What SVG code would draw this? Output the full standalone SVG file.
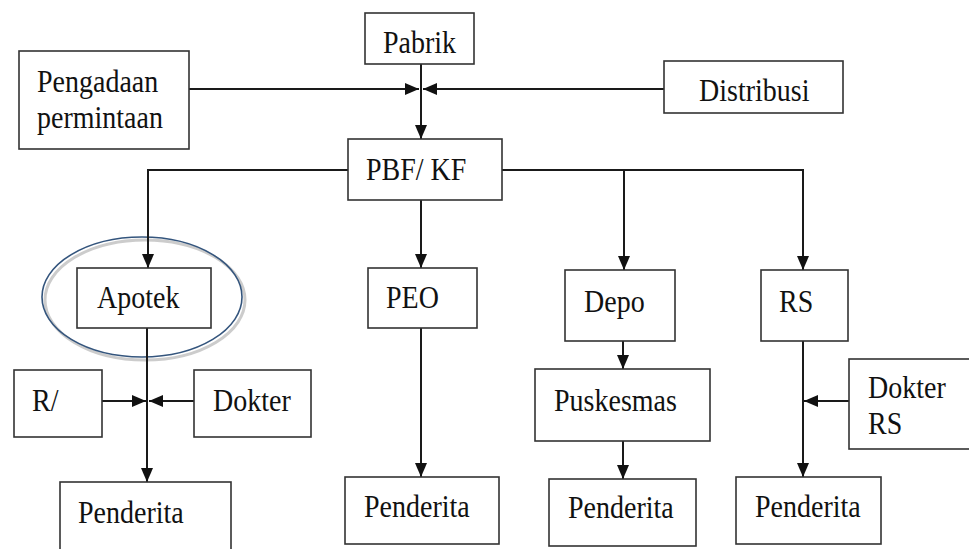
<svg xmlns="http://www.w3.org/2000/svg" width="969" height="549" viewBox="0 0 969 549">
<style>
.box{fill:#fff;stroke:#333;stroke-width:1.6}
.t{font-family:'Liberation Serif','Times New Roman','DejaVu Serif',serif;font-size:28px;fill:#111}
.c{fill:none;stroke:#1a1a1a;stroke-width:2}
</style>
<defs>
<marker id="ah" markerUnits="userSpaceOnUse" markerWidth="16" markerHeight="14" refX="14" refY="6" orient="auto">
<path d="M0,0 L14,6 L0,12 z" fill="#111"/>
</marker>
</defs>
<rect width="969" height="549" fill="#fff"/>
<g id="apotek-highlight">
<ellipse cx="145" cy="300" rx="100" ry="60" fill="none" stroke="#999" stroke-opacity="0.5" stroke-width="3"/>
<ellipse cx="142" cy="297" rx="100" ry="60" fill="none" stroke="#34557d" stroke-width="1.6"/>
</g>
<g id="connectors">
<path class="c" d="M189,89 H419" marker-end="url(#ah)"/>
<path class="c" d="M664,89 H423" marker-end="url(#ah)"/>
<path class="c" d="M421,64 V139" marker-end="url(#ah)"/>
<path class="c" d="M348,170 H148 V268" marker-end="url(#ah)"/>
<path class="c" d="M421,200 V268" marker-end="url(#ah)"/>
<path class="c" d="M502,170 H803 V270" marker-end="url(#ah)"/>
<path class="c" d="M624,170 V270" marker-end="url(#ah)"/>
<path class="c" d="M147,328 V482" marker-end="url(#ah)"/>
<path class="c" d="M102,401 H146" marker-end="url(#ah)"/>
<path class="c" d="M194,401 H149" marker-end="url(#ah)"/>
<path class="c" d="M421,328 V477" marker-end="url(#ah)"/>
<path class="c" d="M623,341 V369" marker-end="url(#ah)"/>
<path class="c" d="M623,441 V479" marker-end="url(#ah)"/>
<path class="c" d="M803,341 V477" marker-end="url(#ah)"/>
<path class="c" d="M849,401 H804" marker-end="url(#ah)"/>
</g>
<g id="pabrik"><rect class="box" x="365" y="13" width="109" height="51"/><text class="t" font-family="Liberation Serif, serif" transform="translate(383 53) scale(1 1.12)">Pabrik</text></g>
<g id="pengadaan"><rect class="box" x="19" y="51" width="170" height="98"/><text class="t" font-family="Liberation Serif, serif" transform="translate(37 92) scale(1 1.12)">Pengadaan</text><text class="t" font-family="Liberation Serif, serif" transform="translate(37 128) scale(1 1.12)">permintaan</text></g>
<g id="distribusi"><rect class="box" x="664" y="61" width="179" height="52"/><text class="t" font-family="Liberation Serif, serif" transform="translate(699 101) scale(1 1.12)">Distribusi</text></g>
<g id="pbf"><rect class="box" x="348" y="139" width="154" height="61"/><text class="t" font-family="Liberation Serif, serif" transform="translate(366 180) scale(1 1.12)">PBF/ KF</text></g>
<g id="apotek"><rect class="box" x="77" y="268" width="134" height="60"/><text class="t" font-family="Liberation Serif, serif" transform="translate(97 308) scale(1 1.12)">Apotek</text></g>
<g id="peo"><rect class="box" x="368" y="268" width="109" height="60"/><text class="t" font-family="Liberation Serif, serif" transform="translate(386 308) scale(1 1.12)">PEO</text></g>
<g id="depo"><rect class="box" x="565" y="270" width="110" height="71"/><text class="t" font-family="Liberation Serif, serif" transform="translate(584 312) scale(1 1.12)">Depo</text></g>
<g id="rs"><rect class="box" x="761" y="270" width="87" height="71"/><text class="t" font-family="Liberation Serif, serif" transform="translate(779 312) scale(1 1.12)">RS</text></g>
<g id="resep"><rect class="box" x="14" y="370" width="88" height="67"/><text class="t" font-family="Liberation Serif, serif" transform="translate(32 411) scale(1 1.12)">R/</text></g>
<g id="dokter"><rect class="box" x="194" y="370" width="117" height="67"/><text class="t" font-family="Liberation Serif, serif" transform="translate(213 411) scale(1 1.12)">Dokter</text></g>
<g id="puskesmas"><rect class="box" x="535" y="369" width="175" height="72"/><text class="t" font-family="Liberation Serif, serif" transform="translate(554 411) scale(1 1.12)">Puskesmas</text></g>
<g id="dokter-rs"><rect class="box" x="849" y="359" width="125" height="90"/><text class="t" font-family="Liberation Serif, serif" transform="translate(868 398) scale(1 1.12)">Dokter</text><text class="t" font-family="Liberation Serif, serif" transform="translate(868 434) scale(1 1.12)">RS</text></g>
<g id="penderita1"><rect class="box" x="60" y="482" width="171" height="70"/><text class="t" font-family="Liberation Serif, serif" transform="translate(78 523) scale(1 1.12)">Penderita</text></g>
<g id="penderita2"><rect class="box" x="345" y="477" width="154" height="67"/><text class="t" font-family="Liberation Serif, serif" transform="translate(364 517) scale(1 1.12)">Penderita</text></g>
<g id="penderita3"><rect class="box" x="549" y="479" width="147" height="67"/><text class="t" font-family="Liberation Serif, serif" transform="translate(568 518) scale(1 1.12)">Penderita</text></g>
<g id="penderita4"><rect class="box" x="736" y="477" width="145" height="67"/><text class="t" font-family="Liberation Serif, serif" transform="translate(755 517) scale(1 1.12)">Penderita</text></g>
</svg>
